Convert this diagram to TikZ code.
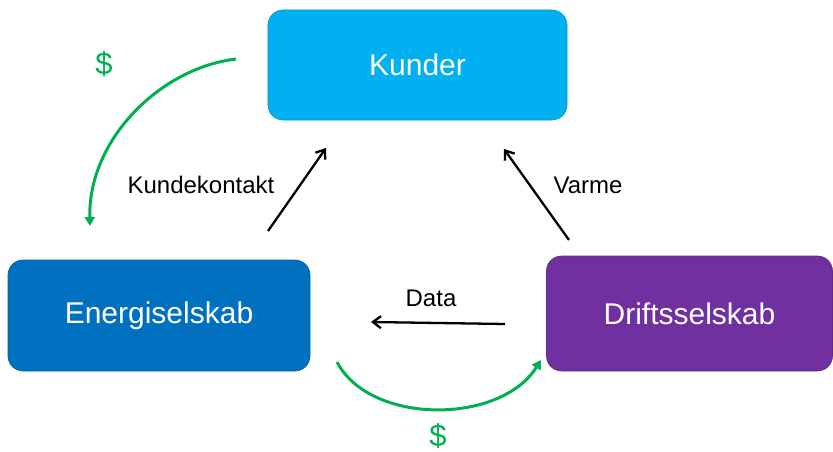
\documentclass[tikz,border=0pt]{standalone}
\usepackage{fontspec}
\setmainfont{Liberation Sans}
\usetikzlibrary{arrows.meta}
\definecolor{kundc}{HTML}{00B0F0}
\definecolor{energc}{HTML}{0070C0}
\definecolor{driftc}{HTML}{7030A0}
\definecolor{moneyc}{HTML}{00B050}
\tikzset{
  box/.style={rounded corners=15pt, draw=#1!85!black, line width=0.6pt, fill=#1, text=white,
    font=\fontsize{30}{36}\selectfont, inner sep=0pt},
  flow/.style={line width=2.3pt, black, -{Straight Barb[length=8pt,width=12pt,line width=2.3pt]}},
  money/.style={line width=3pt, moneyc, -{Triangle[length=9pt,width=10pt]}},
  lbl/.style={font=\fontsize{24}{28}\selectfont, inner sep=0pt},
  dollar/.style={font=\fontsize{31}{36}\selectfont, text=moneyc, inner sep=0pt}
}
\begin{document}
\begin{tikzpicture}[x=1pt,y=-1pt]
\useasboundingbox (0,0) rectangle (833,452);
\node[box=kundc, minimum width=299pt, minimum height=110pt] (kunder) at (417.5,65) {Kunder};
\node[box=energc, minimum width=302pt, minimum height=111pt] (energi) at (159,315.5) {Energiselskab};
\node[box=driftc, minimum width=286pt, minimum height=115pt] (drift) at (689.5,313.5) {Driftsselskab};

\coordinate (kkA) at (268,231);
\coordinate (kkB) at (326,148);
\coordinate (vaA) at (569,240);
\coordinate (vaB) at (504,149);
\coordinate (daA) at (505,324);
\coordinate (daB) at (371,322);
\coordinate (m1A) at (236,59);
\coordinate (m1B) at (90,226);
\coordinate (m2A) at (337,362);
\coordinate (m2B) at (541,360);

\draw[flow] (kkA) -- (kkB);
\draw[flow] (vaA) -- (vaB);
\draw[flow] (daA) -- (daB);
\draw[money] (m1A) .. controls (160,68) and (88,140) .. (m1B);
\draw[money] (m2A) .. controls (370,425) and (500,425) .. (m2B);

\node[lbl] (kklbl) at (201,185) {Kundekontakt};
\node[lbl] (valbl) at (588,185) {Varme};
\node[lbl] (dalbl) at (431,298) {Data};
\node[dollar] (d1) at (104,64) {\$};
\node[dollar] (d2) at (438,436) {\$};
\end{tikzpicture}
\end{document}
